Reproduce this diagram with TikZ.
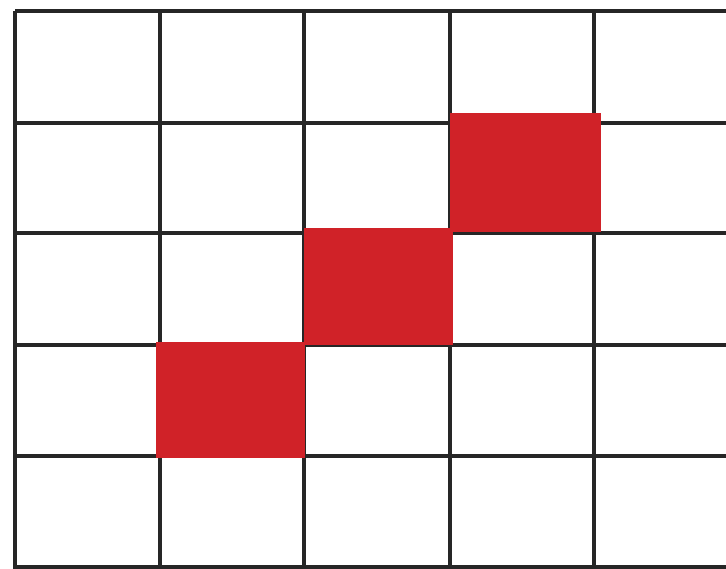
\documentclass[tikz,border=0pt]{standalone}
\definecolor{gridline}{HTML}{262626}
\definecolor{cellred}{HTML}{D02228}
\tikzset{
  gridstroke/.style={draw=gridline, line width=3.4pt},
  redcell/.style={fill=cellred, draw=none}
}
\begin{document}
\begin{tikzpicture}[x=1pt,y=-1pt]
\useasboundingbox (0,0) rectangle (726,569);
\fill[white] (0,0) rectangle (726,569);
% vertical lines
\foreach \xx in {15,160,304,450,594}
  \draw[gridstroke] (\xx,11) -- (\xx,569);
% horizontal lines
\foreach \yy in {11,123,233,345,456,567}
  \draw[gridstroke] (15,\yy) -- (726,\yy);
% red cells
\fill[redcell] (450,113) rectangle (601,232);
\fill[redcell] (304,228) rectangle (453,345);
\fill[redcell] (156,342) rectangle (305,458);
\end{tikzpicture}
\end{document}
